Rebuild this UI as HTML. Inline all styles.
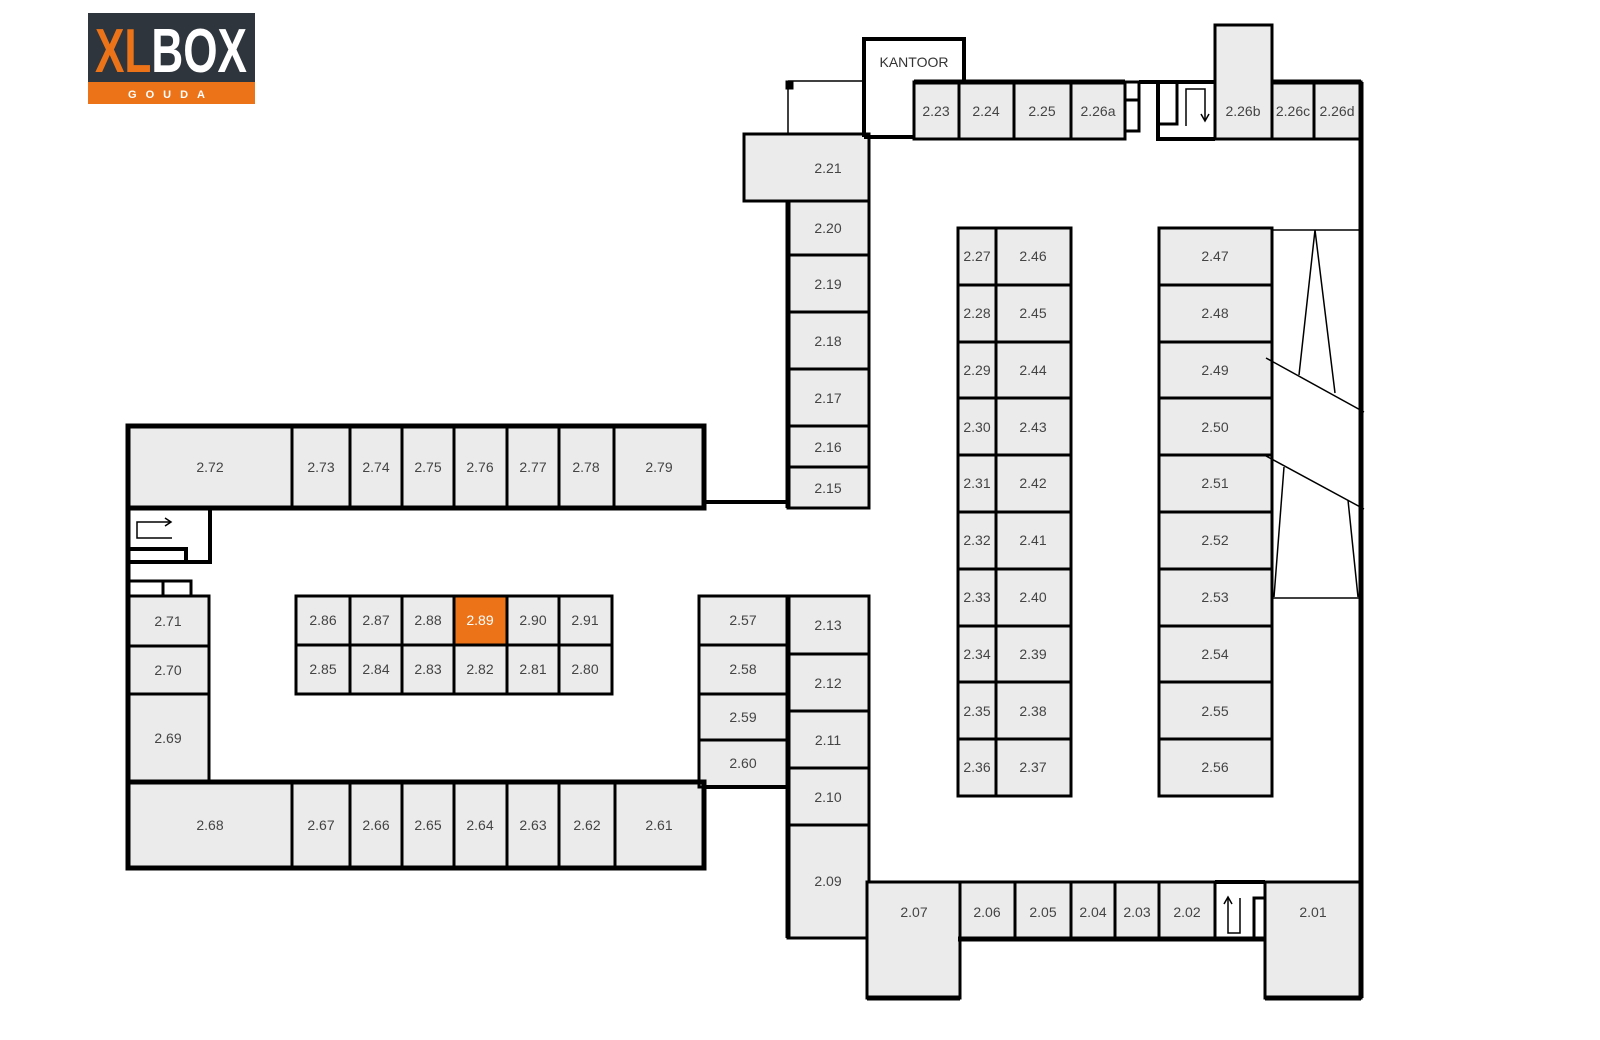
<!DOCTYPE html>
<html><head><meta charset="utf-8"><style>
html,body{margin:0;padding:0;background:#fff;}
svg{display:block;}
text{font-family:"Liberation Sans",Arial,sans-serif;}
</style></head><body>
<svg width="1600" height="1040" viewBox="0 0 1600 1040" xmlns="http://www.w3.org/2000/svg">
<rect x="88" y="13" width="167" height="69" fill="#2e353d"/>
<rect x="88" y="82" width="167" height="22" fill="#ec7318"/>
<text x="95" y="72" font-size="62" font-weight="bold" textLength="152" lengthAdjust="spacingAndGlyphs"><tspan fill="#ec7318">XL</tspan><tspan fill="#fff">BOX</tspan></text>
<text x="171" y="98" font-size="11" font-weight="bold" fill="#fff" text-anchor="middle" letter-spacing="9">GOUDA</text>

<g fill="#ebebeb" stroke="#000" stroke-width="3">
<rect x="128" y="426" width="164" height="82"/><rect x="292" y="426" width="58" height="82"/><rect x="350" y="426" width="52" height="82"/><rect x="402" y="426" width="52" height="82"/><rect x="454" y="426" width="53" height="82"/><rect x="507" y="426" width="52" height="82"/><rect x="559" y="426" width="55" height="82"/><rect x="614" y="426" width="90" height="82"/>
<rect x="128" y="782" width="164" height="86"/><rect x="292" y="782" width="58" height="86"/><rect x="350" y="782" width="52" height="86"/><rect x="402" y="782" width="52" height="86"/><rect x="454" y="782" width="53" height="86"/><rect x="507" y="782" width="52" height="86"/><rect x="559" y="782" width="56" height="86"/><rect x="615" y="782" width="89" height="86"/>
<rect x="128" y="596" width="81" height="50"/><rect x="128" y="646" width="81" height="48"/><rect x="128" y="694" width="81" height="88"/>
<rect x="296" y="596" width="54" height="49"/><rect x="350" y="596" width="52" height="49"/><rect x="402" y="596" width="52" height="49"/><rect x="454" y="596" width="53" height="49" fill="#ec7318"/><rect x="507" y="596" width="52" height="49"/><rect x="559" y="596" width="53" height="49"/>
<rect x="296" y="645" width="54" height="49"/><rect x="350" y="645" width="52" height="49"/><rect x="402" y="645" width="52" height="49"/><rect x="454" y="645" width="53" height="49"/><rect x="507" y="645" width="52" height="49"/><rect x="559" y="645" width="53" height="49"/>
<rect x="699" y="596" width="89" height="49"/><rect x="699" y="645" width="89" height="49"/><rect x="699" y="694" width="89" height="46"/><rect x="699" y="740" width="89" height="47"/>
<rect x="744" y="134" width="125" height="67"/>
<rect x="788" y="201" width="81" height="54"/><rect x="788" y="255" width="81" height="57"/><rect x="788" y="312" width="81" height="57"/><rect x="788" y="369" width="81" height="57"/><rect x="788" y="426" width="81" height="41"/><rect x="788" y="467" width="81" height="41"/>
<rect x="788" y="596" width="81" height="58"/><rect x="788" y="654" width="81" height="57"/><rect x="788" y="711" width="81" height="57"/><rect x="788" y="768" width="81" height="57"/><rect x="788" y="825" width="81" height="113"/>
<rect x="914" y="82" width="45" height="57"/><rect x="959" y="82" width="55" height="57"/><rect x="1014" y="82" width="57" height="57"/><rect x="1071" y="82" width="54" height="57"/>
<rect x="1215" y="25" width="57" height="114"/><rect x="1272" y="82" width="42" height="57"/><rect x="1314" y="82" width="47" height="57"/>
<rect x="958" y="228" width="38" height="57"/><rect x="958" y="285" width="38" height="57"/><rect x="958" y="342" width="38" height="56"/><rect x="958" y="398" width="38" height="57"/><rect x="958" y="455" width="38" height="57"/><rect x="958" y="512" width="38" height="57"/><rect x="958" y="569" width="38" height="57"/><rect x="958" y="626" width="38" height="56"/><rect x="958" y="682" width="38" height="57"/><rect x="958" y="739" width="38" height="57"/>
<rect x="996" y="228" width="75" height="57"/><rect x="996" y="285" width="75" height="57"/><rect x="996" y="342" width="75" height="56"/><rect x="996" y="398" width="75" height="57"/><rect x="996" y="455" width="75" height="57"/><rect x="996" y="512" width="75" height="57"/><rect x="996" y="569" width="75" height="57"/><rect x="996" y="626" width="75" height="56"/><rect x="996" y="682" width="75" height="57"/><rect x="996" y="739" width="75" height="57"/>
<rect x="1159" y="228" width="113" height="57"/><rect x="1159" y="285" width="113" height="57"/><rect x="1159" y="342" width="113" height="56"/><rect x="1159" y="398" width="113" height="57"/><rect x="1159" y="455" width="113" height="57"/><rect x="1159" y="512" width="113" height="57"/><rect x="1159" y="569" width="113" height="57"/><rect x="1159" y="626" width="113" height="56"/><rect x="1159" y="682" width="113" height="57"/><rect x="1159" y="739" width="113" height="57"/>
<rect x="867" y="882" width="93" height="116"/>
<rect x="960" y="882" width="55" height="57"/><rect x="1015" y="882" width="56" height="57"/><rect x="1071" y="882" width="44" height="57"/><rect x="1115" y="882" width="44" height="57"/><rect x="1159" y="882" width="56" height="57"/>
<rect x="1265" y="882" width="96" height="116"/>
</g>

<g font-size="14" fill="#444" text-anchor="middle">
<text x="210" y="472">2.72</text><text x="321" y="472">2.73</text><text x="376" y="472">2.74</text><text x="428" y="472">2.75</text><text x="480" y="472">2.76</text><text x="533" y="472">2.77</text><text x="586" y="472">2.78</text><text x="659" y="472">2.79</text>
<text x="210" y="830">2.68</text><text x="321" y="830">2.67</text><text x="376" y="830">2.66</text><text x="428" y="830">2.65</text><text x="480" y="830">2.64</text><text x="533" y="830">2.63</text><text x="587" y="830">2.62</text><text x="659" y="830">2.61</text>
<text x="168" y="626">2.71</text><text x="168" y="675">2.70</text><text x="168" y="743">2.69</text>
<text x="323" y="625">2.86</text><text x="376" y="625">2.87</text><text x="428" y="625">2.88</text><text x="480" y="625" fill="#fff">2.89</text><text x="533" y="625">2.90</text><text x="585" y="625">2.91</text>
<text x="323" y="674">2.85</text><text x="376" y="674">2.84</text><text x="428" y="674">2.83</text><text x="480" y="674">2.82</text><text x="533" y="674">2.81</text><text x="585" y="674">2.80</text>
<text x="743" y="625">2.57</text><text x="743" y="674">2.58</text><text x="743" y="722">2.59</text><text x="743" y="768">2.60</text>
<text x="828" y="173">2.21</text><text x="828" y="233">2.20</text><text x="828" y="289">2.19</text><text x="828" y="346">2.18</text><text x="828" y="403">2.17</text><text x="828" y="452">2.16</text><text x="828" y="493">2.15</text>
<text x="828" y="630">2.13</text><text x="828" y="688">2.12</text><text x="828" y="745">2.11</text><text x="828" y="802">2.10</text><text x="828" y="886">2.09</text>
<text x="936" y="116">2.23</text><text x="986" y="116">2.24</text><text x="1042" y="116">2.25</text><text x="1098" y="116">2.26a</text><text x="1243" y="116">2.26b</text><text x="1293" y="116">2.26c</text><text x="1337" y="116">2.26d</text>
<text x="977" y="261">2.27</text><text x="977" y="318">2.28</text><text x="977" y="375">2.29</text><text x="977" y="432">2.30</text><text x="977" y="488">2.31</text><text x="977" y="545">2.32</text><text x="977" y="602">2.33</text><text x="977" y="659">2.34</text><text x="977" y="716">2.35</text><text x="977" y="772">2.36</text>
<text x="1033" y="261">2.46</text><text x="1033" y="318">2.45</text><text x="1033" y="375">2.44</text><text x="1033" y="432">2.43</text><text x="1033" y="488">2.42</text><text x="1033" y="545">2.41</text><text x="1033" y="602">2.40</text><text x="1033" y="659">2.39</text><text x="1033" y="716">2.38</text><text x="1033" y="772">2.37</text>
<text x="1215" y="261">2.47</text><text x="1215" y="318">2.48</text><text x="1215" y="375">2.49</text><text x="1215" y="432">2.50</text><text x="1215" y="488">2.51</text><text x="1215" y="545">2.52</text><text x="1215" y="602">2.53</text><text x="1215" y="659">2.54</text><text x="1215" y="716">2.55</text><text x="1215" y="772">2.56</text>
<text x="914" y="917">2.07</text><text x="987" y="917">2.06</text><text x="1043" y="917">2.05</text><text x="1093" y="917">2.04</text><text x="1137" y="917">2.03</text><text x="1187" y="917">2.02</text><text x="1313" y="917">2.01</text>
<text x="914" y="67" fill="#333">KANTOOR</text>
</g>

<g fill="none" stroke="#000">
 <line x1="704" y1="502" x2="788" y2="502" stroke-width="4"/>
 <line x1="788" y1="81" x2="864" y2="81" stroke-width="1.5"/>
 <line x1="788" y1="81" x2="788" y2="134" stroke-width="1.5"/>
 <rect x="786" y="81" width="7" height="8" fill="#000"/>
 <polyline points="864,137 864,39 964,39 964,82" stroke-width="4"/>
 <line x1="864" y1="137" x2="914" y2="137" stroke-width="4"/>
 <rect x="1125" y="82" width="14" height="18" stroke-width="3"/>
 <rect x="1125" y="100" width="14" height="31" stroke-width="3"/>
 <polyline points="1158,82 1158,139 1215,139" stroke-width="4"/>
 <line x1="1139" y1="82" x2="1215" y2="82" stroke-width="4"/>
 <polyline points="1158,82 1158,124 1177,124 1177,82" stroke-width="3"/>
 <polyline points="1186,126 1186,89 1205,89 1205,120" stroke-width="1.5"/>
 <polyline points="1201,114 1205,121 1209,114" stroke-width="1.5"/>
 <line x1="1361" y1="82" x2="1361" y2="998" stroke-width="5"/>
 <line x1="914" y1="82" x2="1125" y2="82" stroke-width="5"/>
 <line x1="1272" y1="82" x2="1361" y2="82" stroke-width="5"/>
 <line x1="1272" y1="230" x2="1361" y2="230" stroke-width="1.5"/>
 <line x1="1272" y1="598" x2="1361" y2="598" stroke-width="1.5"/>
 <polyline points="1299,375 1315,230 1335,393" stroke-width="1.5"/>
 <line x1="1266" y1="358" x2="1364" y2="412" stroke-width="1.5"/>
 <line x1="1266" y1="456" x2="1364" y2="509" stroke-width="1.5"/>
 <line x1="1284" y1="467" x2="1274" y2="597" stroke-width="1.5"/>
 <line x1="1348" y1="500" x2="1358" y2="597" stroke-width="1.5"/>
 <line x1="128" y1="508" x2="128" y2="782" stroke-width="5"/>
 <polyline points="128,562 210,562 210,508" stroke-width="4"/>
 <polyline points="128,549 186,549 186,562" stroke-width="4"/>
 <polyline points="170,522 137,522 137,538 172,538" stroke-width="1.5"/>
 <polyline points="165,518 171,522 165,526" stroke-width="1.5"/>
 <rect x="128" y="581" width="35" height="15" stroke-width="3"/>
 <rect x="163" y="581" width="28" height="15" stroke-width="3"/>
 <rect x="128" y="426" width="576" height="82" stroke-width="5"/>
 <rect x="128" y="782" width="576" height="86" stroke-width="5"/>
 <line x1="788" y1="201" x2="788" y2="508" stroke-width="5"/>
 <line x1="788" y1="596" x2="788" y2="938" stroke-width="5"/>
 <line x1="704" y1="787" x2="788" y2="787" stroke-width="4"/>
 <line x1="958" y1="939" x2="1265" y2="939" stroke-width="5"/>
 <line x1="867" y1="998" x2="960" y2="998" stroke-width="5"/>
 <line x1="1265" y1="998" x2="1361" y2="998" stroke-width="5"/>
 <line x1="1215" y1="882" x2="1265" y2="882" stroke-width="4"/>
 <polyline points="1228,898 1228,933 1240,933 1240,898" stroke-width="1.5"/>
 <polyline points="1224,904 1228,897 1232,904" stroke-width="1.5"/>
 <rect x="1254" y="898" width="11" height="41" stroke-width="3"/>
</g>
</svg>
</body></html>
